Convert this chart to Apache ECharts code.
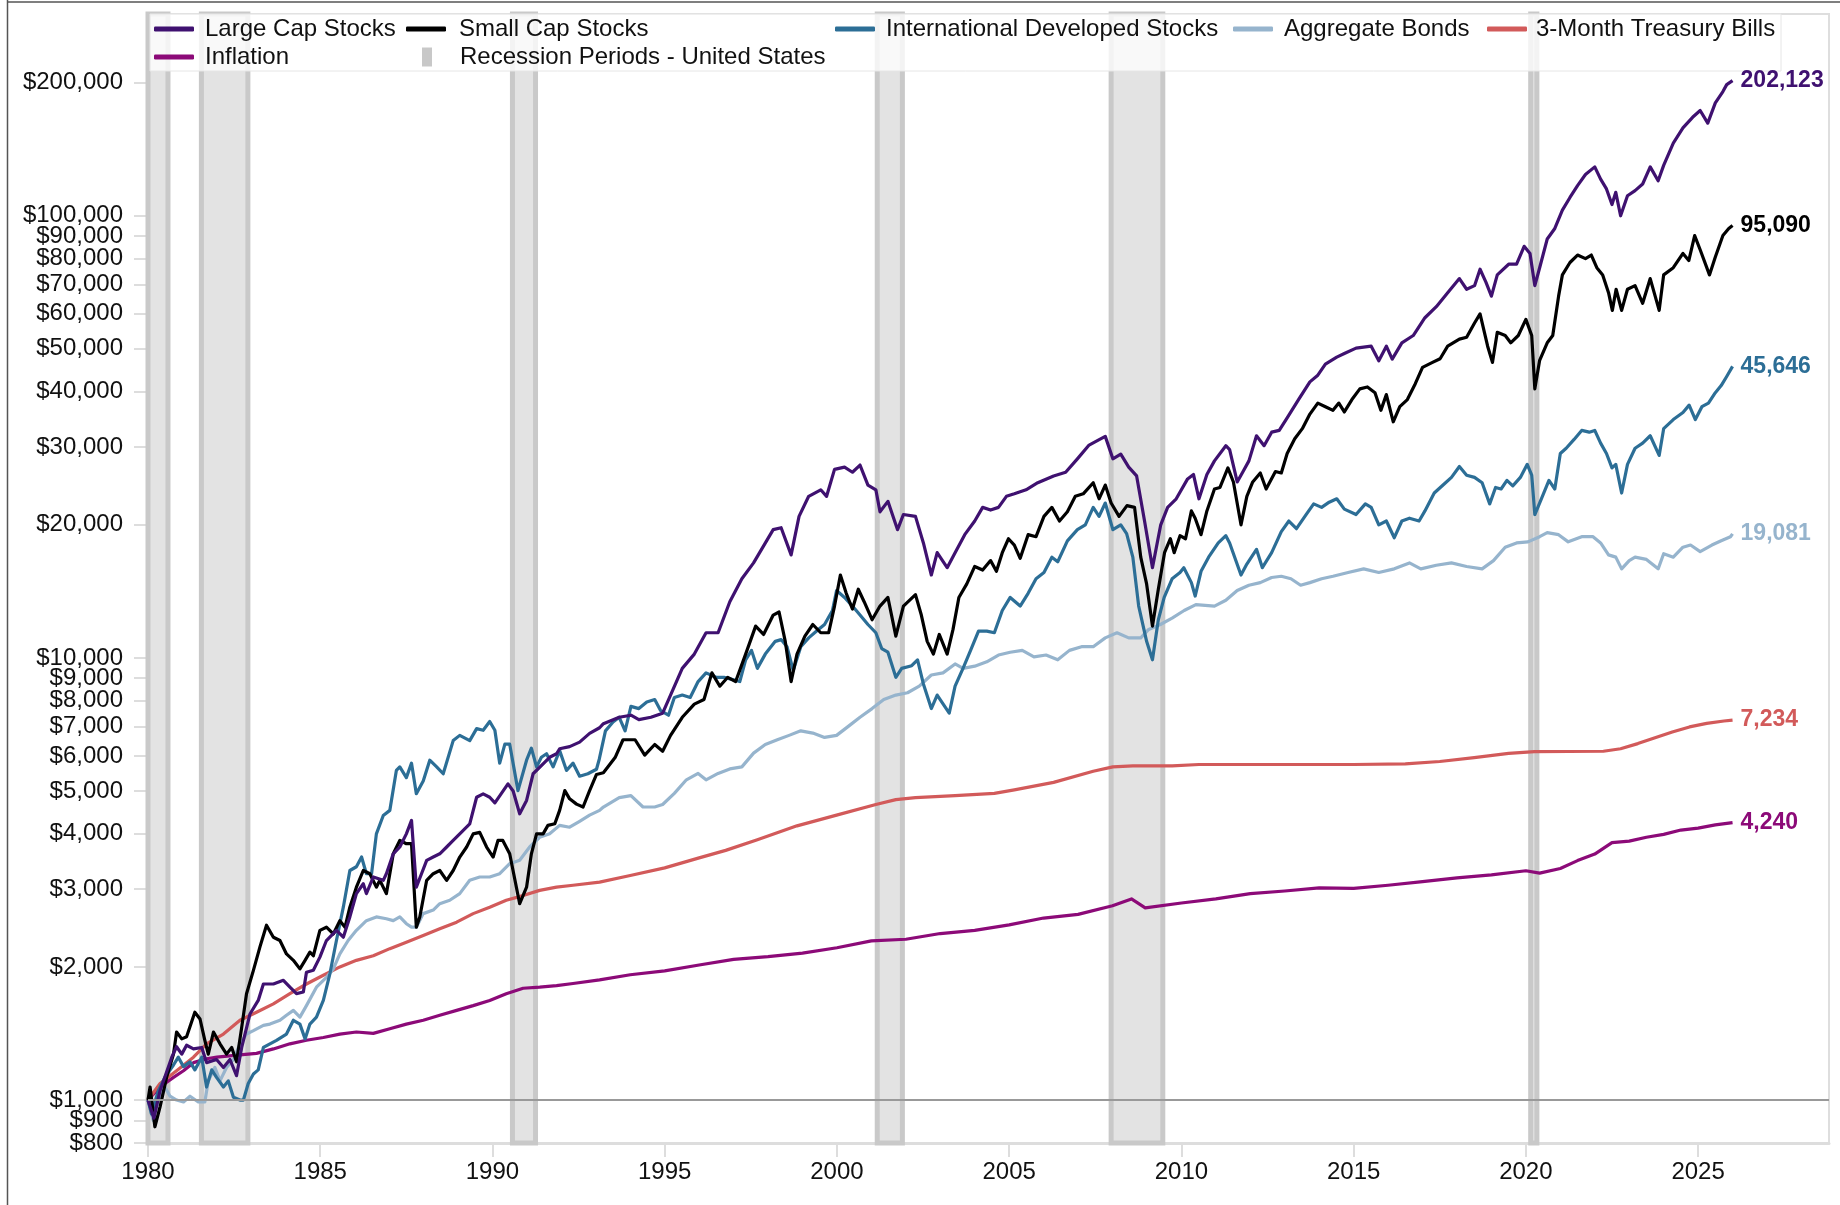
<!DOCTYPE html>
<html lang="en">
<head>
<meta charset="utf-8">
<title>Growth of $1,000</title>
<script src="https://cdn.jsdelivr.net/npm/echarts@6.0.0/dist/echarts.min.js"></script>
<style>
    html, body { margin: 0; padding: 0; background: #fff; }
    #main { width: 1840px; height: 1205px; }
</style>
</head>
<body>
<div id="main"></div>
<script type="text/javascript">

    // growth of $1,000, points are [year, value]
    var largeCap = [[1980.00,1000],[1980.17,910],[1980.35,1050],[1980.69,1250],[1980.83,1320],[1980.98,1270],[1981.12,1330],[1981.32,1305],[1981.56,1315],[1981.70,1215],[1981.99,1235],[1982.19,1185],[1982.38,1235],[1982.57,1135],[1982.72,1315],[1982.96,1565],[1983.20,1680],[1983.35,1830],[1983.64,1830],[1983.93,1865],[1984.12,1800],[1984.31,1740],[1984.51,1755],[1984.60,1945],[1984.80,1965],[1984.99,2105],[1985.18,2295],[1985.47,2420],[1985.67,2335],[1985.86,2595],[1986.05,2930],[1986.25,3085],[1986.34,2930],[1986.54,3195],[1986.83,3140],[1986.92,3250],[1987.12,3605],[1987.31,3735],[1987.50,4000],[1987.65,4290],[1987.79,3030],[1987.94,3250],[1988.09,3485],[1988.28,3545],[1988.47,3605],[1988.67,3735],[1988.86,3865],[1989.05,4000],[1989.34,4215],[1989.54,4840],[1989.73,4925],[1989.92,4840],[1990.07,4700],[1990.45,5190],[1990.60,5000],[1990.79,4440],[1990.99,4760],[1991.18,5470],[1991.47,5760],[1991.66,5960],[1991.86,6070],[1991.95,6230],[1992.24,6300],[1992.53,6450],[1992.82,6750],[1993.11,6950],[1993.22,7100],[1993.68,7340],[1994.02,7420],[1994.25,7250],[1994.60,7340],[1994.94,7500],[1995.17,8240],[1995.51,9470],[1995.86,10200],[1996.20,11400],[1996.55,11400],[1996.89,13400],[1997.24,15100],[1997.58,16400],[1998.15,19500],[1998.38,19700],[1998.67,17100],[1998.90,20900],[1999.18,23200],[1999.53,24000],[1999.70,23200],[1999.93,26700],[2000.22,27000],[2000.45,26300],[2000.67,27300],[2000.90,24600],[2001.13,24000],[2001.25,21400],[2001.48,22600],[2001.76,19500],[2001.93,21100],[2002.28,20900],[2002.51,18200],[2002.74,15400],[2002.91,17300],[2003.20,16000],[2003.43,17300],[2003.71,19000],[2004.00,20400],[2004.23,21900],[2004.46,21600],[2004.69,21900],[2004.92,23200],[2005.15,23500],[2005.49,24000],[2005.83,24900],[2006.29,25800],[2006.64,26300],[2006.98,28200],[2007.32,30300],[2007.56,31000],[2007.79,31700],[2008.01,28200],[2008.24,28900],[2008.47,27000],[2008.70,25800],[2008.93,20400],[2009.16,16000],[2009.40,20000],[2009.60,21900],[2009.85,22900],[2010.18,25400],[2010.35,26000],[2010.51,22900],[2010.74,26000],[2010.96,27900],[2011.29,30200],[2011.40,29600],[2011.62,25000],[2011.79,26400],[2011.96,27900],[2012.18,31800],[2012.40,30200],[2012.62,32400],[2012.84,32700],[2013.07,34900],[2013.40,38400],[2013.73,42100],[2013.96,43600],[2014.18,46200],[2014.51,47900],[2014.73,48800],[2015.07,50200],[2015.51,50700],[2015.73,47000],[2015.95,50700],[2016.12,47400],[2016.40,51600],[2016.73,53600],[2017.07,58800],[2017.40,62300],[2017.73,67000],[2018.07,72100],[2018.28,68200],[2018.51,69500],[2018.67,75700],[2018.84,70800],[2019.00,65800],[2019.17,73500],[2019.50,77700],[2019.73,77700],[2019.95,85300],[2020.12,82200],[2020.26,69500],[2020.40,76300],[2020.62,88600],[2020.84,93600],[2021.06,103000],[2021.28,110000],[2021.50,117000],[2021.73,124000],[2022.00,129000],[2022.17,121000],[2022.34,115000],[2022.50,106000],[2022.61,113000],[2022.75,100000],[2022.95,111000],[2023.17,114000],[2023.39,118000],[2023.61,129000],[2023.84,120000],[2024.00,130000],[2024.28,146000],[2024.56,158000],[2024.84,167000],[2025.06,173000],[2025.28,162000],[2025.50,180000],[2025.72,191000],[2025.83,198000],[2026.00,202123]];

    var smallCap = [[1980.00,1000],[1980.06,1070],[1980.20,870],[1980.35,965],[1980.54,1125],[1980.74,1270],[1980.83,1425],[1980.98,1375],[1981.12,1390],[1981.36,1580],[1981.51,1525],[1981.65,1365],[1981.75,1270],[1981.90,1425],[1982.09,1340],[1982.28,1270],[1982.43,1315],[1982.57,1220],[1982.72,1460],[1982.86,1740],[1983.06,1965],[1983.25,2220],[1983.44,2485],[1983.64,2335],[1983.83,2295],[1984.02,2140],[1984.22,2070],[1984.41,1980],[1984.56,2070],[1984.70,2160],[1984.80,2120],[1984.99,2420],[1985.18,2460],[1985.38,2375],[1985.57,2545],[1985.72,2460],[1985.86,2730],[1986.05,3030],[1986.25,3305],[1986.44,3250],[1986.63,3030],[1986.73,3140],[1986.92,2930],[1987.12,3605],[1987.31,3865],[1987.50,3800],[1987.65,3800],[1987.79,2460],[1987.89,2595],[1988.09,3140],[1988.28,3250],[1988.47,3305],[1988.67,3140],[1988.86,3305],[1989.05,3545],[1989.25,3735],[1989.44,4000],[1989.63,4030],[1989.83,3735],[1990.02,3545],[1990.16,3865],[1990.30,3865],[1990.50,3605],[1990.79,2780],[1990.99,3030],[1991.13,3605],[1991.28,4000],[1991.47,4000],[1991.61,4180],[1991.81,4215],[1991.95,4520],[1992.10,5010],[1992.24,4800],[1992.44,4670],[1992.63,4600],[1992.82,5010],[1993.02,5450],[1993.22,5500],[1993.56,5950],[1993.79,6530],[1994.14,6530],[1994.42,6030],[1994.71,6370],[1994.94,6150],[1995.17,6680],[1995.51,7340],[1995.86,7860],[1996.14,8050],[1996.37,9250],[1996.60,8630],[1996.83,9040],[1997.06,8840],[1997.35,10200],[1997.64,11800],[1997.87,11300],[1998.15,12500],[1998.32,12700],[1998.50,10900],[1998.67,8840],[1998.84,10200],[1999.07,11200],[1999.30,11900],[1999.53,11400],[1999.76,11400],[1999.93,13100],[2000.10,15400],[2000.27,14000],[2000.45,12900],[2000.62,14300],[2000.79,13400],[2001.02,12200],[2001.25,13100],[2001.48,13700],[2001.71,11200],[2001.93,13100],[2002.28,13900],[2002.45,12500],[2002.62,10900],[2002.80,10200],[2002.97,11300],[2003.20,10200],[2003.37,11600],[2003.54,13700],[2003.77,14700],[2004.00,16100],[2004.23,15800],[2004.46,16600],[2004.63,15700],[2004.80,17300],[2004.98,18600],[2005.15,18000],[2005.32,16800],[2005.55,19000],[2005.78,18800],[2006.01,20900],[2006.24,21900],[2006.46,20400],[2006.69,21400],[2006.92,23200],[2007.15,23500],[2007.44,24900],[2007.61,22900],[2007.79,24600],[2007.96,22400],[2008.19,20900],[2008.42,22100],[2008.64,21900],[2008.82,16900],[2008.99,14700],[2009.16,11800],[2009.33,14300],[2009.51,17300],[2009.68,18600],[2009.79,17300],[2009.96,18900],[2010.12,18600],[2010.29,21500],[2010.40,20700],[2010.57,19000],[2010.74,21500],[2010.96,24100],[2011.12,24300],[2011.35,26900],[2011.51,25000],[2011.73,20000],[2011.90,23200],[2012.07,25000],[2012.29,26200],[2012.46,24100],[2012.73,26400],[2012.90,26200],[2013.07,29000],[2013.29,31300],[2013.51,33000],[2013.73,35600],[2013.96,37700],[2014.18,37000],[2014.40,36300],[2014.57,37700],[2014.73,36000],[2014.95,38400],[2015.18,40600],[2015.40,41000],[2015.62,39800],[2015.79,36300],[2015.95,39400],[2016.15,34200],[2016.34,37000],[2016.56,38400],[2016.79,41700],[2017.00,45400],[2017.29,46600],[2017.51,47500],[2017.73,50700],[2018.07,52600],[2018.28,53100],[2018.51,57200],[2018.67,60000],[2018.89,50700],[2019.03,46600],[2019.17,54500],[2019.40,53600],[2019.56,51600],[2019.78,53600],[2020.00,58300],[2020.17,53600],[2020.26,40600],[2020.40,47100],[2020.62,51600],[2020.78,53600],[2020.95,65800],[2021.06,73500],[2021.28,78400],[2021.50,81500],[2021.73,80000],[2021.90,81500],[2022.06,76300],[2022.23,73500],[2022.40,67000],[2022.51,61100],[2022.62,68200],[2022.78,61100],[2022.95,68200],[2023.17,69500],[2023.39,63400],[2023.61,72100],[2023.87,61100],[2024.00,73500],[2024.28,76300],[2024.56,82200],[2024.73,79200],[2024.90,90200],[2025.06,83800],[2025.33,73500],[2025.50,80700],[2025.72,90200],[2025.89,93600],[2026.00,95090]];

    var intlDev = [[1980.00,1000],[1980.10,930],[1980.30,1050],[1980.49,1125],[1980.74,1200],[1980.88,1250],[1981.03,1190],[1981.22,1220],[1981.36,1170],[1981.56,1250],[1981.70,1070],[1981.85,1170],[1981.99,1125],[1982.19,1070],[1982.33,1105],[1982.48,1015],[1982.67,1000],[1982.77,1000],[1982.91,1090],[1983.06,1145],[1983.20,1170],[1983.35,1315],[1983.54,1340],[1983.73,1365],[1984.02,1410],[1984.22,1515],[1984.41,1485],[1984.56,1375],[1984.70,1485],[1984.89,1540],[1985.09,1680],[1985.28,1930],[1985.47,2295],[1985.67,2730],[1985.86,3305],[1986.05,3370],[1986.20,3545],[1986.34,3250],[1986.49,3250],[1986.63,4000],[1986.83,4400],[1987.02,4520],[1987.21,5565],[1987.31,5670],[1987.50,5360],[1987.65,5780],[1987.79,4930],[1987.99,5270],[1988.18,5870],[1988.38,5670],[1988.57,5470],[1988.86,6500],[1989.05,6680],[1989.34,6500],[1989.54,6920],[1989.73,6860],[1989.92,7180],[1990.07,6860],[1990.21,5780],[1990.36,6380],[1990.50,6380],[1990.74,5010],[1990.99,5870],[1991.13,6250],[1991.28,5670],[1991.42,5960],[1991.57,6070],[1991.76,5670],[1991.95,6170],[1992.15,5565],[1992.34,5780],[1992.53,5400],[1992.77,5470],[1993.02,5600],[1993.10,5900],[1993.28,6840],[1993.50,7160],[1993.68,7340],[1993.85,6840],[1994.02,7770],[1994.25,7680],[1994.48,7950],[1994.71,8050],[1994.88,7600],[1995.11,7420],[1995.28,8140],[1995.51,8240],[1995.74,8140],[1995.97,8840],[1996.20,9250],[1996.49,9040],[1996.72,9040],[1996.95,8940],[1997.18,8840],[1997.35,9900],[1997.52,10400],[1997.69,9470],[1997.92,10200],[1998.21,10900],[1998.38,11000],[1998.55,10600],[1998.73,9370],[1998.95,10600],[1999.18,11100],[1999.41,11500],[1999.64,11900],[1999.87,12800],[1999.99,14200],[2000.22,13700],[2000.45,13100],[2000.67,12500],[2000.90,11900],[2001.13,11400],[2001.30,10500],[2001.48,10300],[2001.71,9040],[2001.88,9470],[2002.17,9600],[2002.34,9900],[2002.51,8730],[2002.74,7680],[2002.91,8240],[2003.26,7500],[2003.43,8630],[2003.66,9470],[2003.88,10400],[2004.11,11500],[2004.35,11500],[2004.57,11400],[2004.80,12800],[2005.03,13700],[2005.32,13100],[2005.55,14000],[2005.78,15100],[2006.01,15600],[2006.24,16900],[2006.41,16500],[2006.69,18400],[2006.98,19500],[2007.21,20000],[2007.44,21900],[2007.61,20900],[2007.79,22400],[2008.01,19500],[2008.24,20000],[2008.41,19100],[2008.59,16900],[2008.76,13100],[2008.99,10900],[2009.16,9900],[2009.33,12200],[2009.50,13700],[2009.73,15100],[2009.96,15600],[2010.07,16000],[2010.29,14800],[2010.40,13800],[2010.57,15700],[2010.79,16900],[2011.07,18200],[2011.29,18900],[2011.40,18200],[2011.73,15400],[2011.90,16300],[2012.18,17600],[2012.35,16000],[2012.62,17300],[2012.90,19300],[2013.12,20400],[2013.34,19600],[2013.62,21100],[2013.84,22300],[2014.07,21900],[2014.29,22500],[2014.51,22900],[2014.73,21700],[2015.07,21100],[2015.34,22300],[2015.51,21900],[2015.73,20000],[2015.95,20400],[2016.18,18700],[2016.40,20400],[2016.62,20700],[2016.90,20400],[2017.07,21500],[2017.34,23600],[2017.62,24700],[2017.84,25600],[2018.07,27100],[2018.28,25900],[2018.51,25600],[2018.73,24900],[2018.95,22300],[2019.12,24300],[2019.28,24100],[2019.45,25200],[2019.62,24500],[2019.84,25600],[2020.04,27400],[2020.17,25900],[2020.26,21100],[2020.45,22900],[2020.67,25200],[2020.84,24100],[2021.00,29000],[2021.17,29800],[2021.40,31200],[2021.62,32700],[2021.84,32400],[2022.00,32700],[2022.17,30600],[2022.34,29000],[2022.50,26900],[2022.61,27400],[2022.78,23600],[2022.95,27400],[2023.17,29800],[2023.39,30600],[2023.61,31800],[2023.87,28700],[2024.00,33000],[2024.28,34600],[2024.56,35900],[2024.74,37300],[2024.92,34600],[2025.11,37000],[2025.30,37700],[2025.50,39800],[2025.67,41300],[2025.83,43300],[2026.00,45646]];

    var aggBonds = [[1980.00,1000],[1980.15,900],[1980.30,1000],[1980.49,1070],[1980.64,1020],[1980.83,1000],[1981.03,990],[1981.22,1020],[1981.46,990],[1981.65,990],[1981.75,1105],[1981.94,1185],[1982.09,1105],[1982.28,1185],[1982.48,1235],[1982.67,1340],[1982.86,1410],[1983.06,1435],[1983.35,1475],[1983.54,1485],[1983.83,1515],[1984.02,1555],[1984.22,1595],[1984.41,1540],[1984.60,1635],[1984.89,1800],[1985.18,1895],[1985.38,1980],[1985.57,2140],[1985.81,2295],[1986.05,2420],[1986.34,2545],[1986.63,2595],[1986.92,2570],[1987.12,2545],[1987.31,2595],[1987.50,2505],[1987.65,2460],[1987.79,2460],[1987.99,2640],[1988.28,2690],[1988.47,2780],[1988.76,2830],[1989.05,2930],[1989.34,3140],[1989.63,3195],[1989.92,3195],[1990.21,3250],[1990.50,3425],[1990.79,3485],[1991.08,3735],[1991.37,3930],[1991.66,4000],[1991.95,4180],[1992.24,4140],[1992.53,4270],[1992.82,4410],[1993.11,4520],[1993.22,4600],[1993.68,4830],[1994.02,4880],[1994.37,4600],[1994.71,4600],[1994.94,4660],[1995.28,4940],[1995.63,5300],[1995.97,5480],[1996.20,5300],[1996.55,5480],[1996.89,5610],[1997.24,5670],[1997.58,6090],[1997.92,6370],[1998.27,6530],[1998.61,6680],[1998.95,6840],[1999.30,6760],[1999.64,6610],[1999.99,6680],[2000.33,7000],[2000.67,7340],[2001.02,7680],[2001.36,8050],[2001.71,8240],[2002.05,8340],[2002.39,8630],[2002.74,9150],[2003.08,9250],[2003.43,9690],[2003.66,9470],[2004.00,9580],[2004.35,9800],[2004.69,10150],[2005.03,10300],[2005.38,10400],[2005.72,10050],[2006.07,10150],[2006.41,9900],[2006.75,10400],[2007.10,10600],[2007.44,10600],[2007.79,11100],[2008.13,11400],[2008.47,11100],[2008.82,11100],[2009.05,11600],[2009.39,11900],[2009.73,12300],[2010.08,12800],[2010.42,13200],[2010.96,13100],[2011.29,13500],[2011.62,14200],[2011.96,14600],[2012.29,14800],[2012.62,15200],[2012.90,15300],[2013.18,15100],[2013.46,14600],[2013.73,14800],[2014.07,15100],[2014.40,15300],[2014.84,15600],[2015.29,15900],[2015.73,15600],[2016.18,15900],[2016.62,16400],[2016.95,15900],[2017.40,16200],[2017.84,16400],[2018.28,16100],[2018.73,15900],[2019.06,16600],[2019.40,17800],[2019.73,18200],[2020.06,18300],[2020.40,18800],[2020.62,19200],[2020.95,19000],[2021.23,18300],[2021.62,18800],[2021.95,18800],[2022.17,18200],[2022.40,17100],[2022.61,16900],[2022.78,15900],[2023.00,16600],[2023.17,16900],[2023.50,16700],[2023.84,15900],[2024.00,17200],[2024.28,16900],[2024.56,17800],[2024.78,18000],[2025.06,17400],[2025.40,18000],[2025.67,18400],[2025.94,18800],[2026.00,19081]];

    var tBills = [[1980.00,1000],[1980.35,1090],[1980.83,1165],[1981.32,1250],[1981.70,1340],[1982.19,1410],[1982.67,1515],[1983.15,1580],[1983.64,1650],[1984.12,1740],[1984.60,1830],[1985.09,1915],[1985.57,2000],[1986.05,2070],[1986.54,2120],[1987.02,2200],[1987.50,2275],[1987.99,2355],[1988.47,2440],[1988.96,2525],[1989.44,2640],[1989.92,2730],[1990.40,2830],[1990.89,2900],[1991.37,2980],[1991.86,3030],[1992.34,3060],[1993.11,3110],[1994.00,3220],[1995.00,3350],[1996.00,3530],[1996.77,3670],[1997.69,3880],[1998.84,4170],[1999.99,4410],[2001.13,4660],[2001.71,4780],[2002.28,4830],[2003.43,4880],[2004.57,4940],[2005.15,5030],[2006.29,5230],[2007.44,5540],[2008.01,5670],[2008.59,5700],[2009.73,5700],[2010.51,5740],[2015.00,5740],[2016.50,5760],[2017.50,5830],[2018.50,5950],[2019.50,6080],[2020.25,6140],[2022.25,6150],[2022.75,6230],[2023.25,6400],[2023.75,6600],[2024.25,6800],[2024.75,6980],[2025.25,7110],[2025.75,7200],[2026.00,7234]];

    var inflation = [[1980.00,1000],[1980.35,1070],[1980.74,1125],[1981.03,1165],[1981.32,1215],[1981.70,1240],[1982.00,1250],[1982.67,1265],[1983.15,1275],[1983.64,1305],[1984.12,1340],[1984.60,1365],[1985.09,1385],[1985.57,1410],[1986.05,1425],[1986.54,1415],[1987.02,1450],[1987.50,1485],[1987.99,1515],[1988.47,1555],[1988.96,1595],[1989.44,1635],[1989.92,1680],[1990.40,1740],[1990.89,1790],[1991.37,1800],[1991.86,1815],[1992.34,1835],[1993.11,1870],[1994.00,1920],[1995.00,1960],[1996.00,2020],[1997.00,2080],[1998.00,2110],[1999.00,2150],[2000.00,2210],[2001.00,2290],[2002.00,2310],[2003.00,2380],[2004.00,2420],[2005.00,2490],[2006.00,2580],[2007.00,2630],[2008.00,2750],[2008.55,2850],[2008.95,2720],[2010.00,2790],[2011.00,2850],[2012.00,2930],[2013.00,2970],[2014.00,3020],[2015.00,3010],[2016.00,3060],[2017.00,3120],[2018.00,3180],[2019.00,3230],[2020.00,3300],[2020.40,3260],[2021.00,3340],[2021.50,3480],[2022.00,3600],[2022.50,3820],[2023.00,3850],[2023.50,3930],[2024.00,3990],[2024.50,4080],[2025.00,4120],[2025.50,4190],[2026.00,4240]];

    // US recessions, [start, end] in years
    var recessions = [[1980.00,1980.58],[1981.55,1982.90],[1990.58,1991.25],[2001.17,2001.90],[2007.96,2009.46],[2020.14,2020.32]];

    var xTicks = [1980, 1985, 1990, 1995, 2000, 2005, 2010, 2015, 2020, 2025];
    var yTicks = [1000, 2000, 3000, 4000, 5000, 6000, 7000, 8000, 9000, 10000, 20000, 30000, 40000, 50000, 60000, 70000, 80000, 90000, 100000, 200000];
    // the two lowest ticks sit too close to their neighbours, each gets its own axis layer
    var yTicksLow1 = [800];
    var yTicksLow2 = [900];

    var FONT = '"Liberation Sans", Arial, Helvetica, sans-serif';

    function commas(n) {
        return String(Math.round(n)).replace(/\B(?=(\d{3})+(?!\d))/g, ',');
    }

    function logAxis(ticks) {
        return {
            type: 'log',
            logBase: 10,
            min: 799.5,
            max: 286000,
            position: 'left',
            offset: 0,
            splitLine: { show: false },
            axisLine: { show: false },
            axisTick: { show: true, length: 14, customValues: ticks, lineStyle: { color: '#dddddd', width: 2 } },
            axisLabel: {
                customValues: ticks,
                margin: 25,
                fontFamily: FONT,
                fontSize: 24,
                color: '#111',
                formatter: function (v) { return '$' + commas(v); }
            }
        };
    }

    function lineSeries(name, data, color) {
        return {
            name: name,
            type: 'line',
            data: data,
            color: color,
            symbol: 'none',
            showSymbol: false,
            z: 3,
            lineStyle: { width: 3.2, color: color, join: 'round' },
            endLabel: {
                show: true,
                distance: 8,
                color: color,
                fontFamily: FONT,
                fontSize: 23,
                fontWeight: 'bold',
                formatter: function (p) { return commas(p.value[1]); }
            },
            emphasis: { disabled: true }
        };
    }

    function legendItem(name, left, top, icon, w, h, pad) {
        return {
            data: [{ name: name, icon: icon }],
            left: left,
            top: top,
            itemWidth: w,
            itemHeight: h,
            padding: 0,
            selectedMode: false,
            z: 10,
            textStyle: { fontFamily: FONT, fontSize: 24, color: '#111', padding: [0, 0, 0, pad] }
        };
    }

    var myChart = echarts.init(document.getElementById('main'));

    var option = {
        animation: false,
        backgroundColor: '#fff',
        grid: {
            left: 148, right: 11, top: 14, bottom: 62,
            outerBoundsMode: 'none',
            show: true,
            borderColor: '#dedede',
            borderWidth: 2
        },
        legend: [
            legendItem('Large Cap Stocks', 154, 17, 'roundRect', 40, 5, 6),
            legendItem('Small Cap Stocks', 406, 17, 'roundRect', 40, 5, 8),
            legendItem('International Developed Stocks', 835, 17, 'roundRect', 40, 5, 6),
            legendItem('Aggregate Bonds', 1233, 17, 'roundRect', 40, 5, 6),
            legendItem('3-Month Treasury Bills', 1487, 17, 'roundRect', 40, 5, 4),
            legendItem('Inflation', 154, 45, 'roundRect', 40, 5, 6),
            legendItem('Recession Periods - United States', 422, 45, 'rect', 10, 19, 23)
        ],
        graphic: [
            {   // legend panel, half see-through
                type: 'rect', z: 3,
                shape: { x: 150, y: 14, width: 1631, height: 57 },
                style: { fill: 'rgba(255,255,255,0.78)', stroke: '#e6e6e6', lineWidth: 1 }
            },
            { type: 'line', z: 20, shape: { x1: 7.5, y1: 0, x2: 7.5, y2: 1205 }, style: { stroke: '#555', lineWidth: 1.5 } },
            { type: 'line', z: 20, shape: { x1: 7, y1: 2, x2: 1840, y2: 2 }, style: { stroke: '#555', lineWidth: 1.5 } }
        ],
        xAxis: {
            type: 'value',
            min: 1980,
            max: 2028.8,
            splitLine: { show: false },
            axisLine: { show: true, lineStyle: { color: '#dddddd', width: 3 } },
            axisTick: { show: true, length: 14, customValues: xTicks, lineStyle: { color: '#dddddd', width: 2 } },
            axisLabel: {
                customValues: xTicks,
                showMinLabel: true,
                margin: 17,
                fontFamily: FONT,
                fontSize: 24,
                color: '#111',
                formatter: function (v) { return String(v); }
            }
        },
        yAxis: [logAxis(yTicks), logAxis(yTicksLow1), logAxis(yTicksLow2)],
        series: [
            {
                name: 'Recession Periods - United States',
                type: 'line',
                data: [],
                color: '#c8c8c8',
                z: 1,
                silent: true,
                markArea: {
                    silent: true,
                    itemStyle: { color: '#e3e3e3', borderColor: '#c9c9c9', borderWidth: 5 },
                    data: recessions.map(function (r) { return [{ xAxis: r[0] }, { xAxis: r[1] }]; })
                }
            },
            {
                name: 'base',
                type: 'line',
                data: [],
                z: 2,
                silent: true,
                markLine: {
                    silent: true,
                    symbol: ['none', 'none'],
                    label: { show: false },
                    lineStyle: { color: '#999999', width: 2, type: 'solid' },
                    data: [{ yAxis: 1000 }]
                }
            },
            lineSeries('Inflation', inflation, '#8c0a78'),
            lineSeries('3-Month Treasury Bills', tBills, '#d25a5a'),
            lineSeries('Aggregate Bonds', aggBonds, '#96b4cd'),
            lineSeries('International Developed Stocks', intlDev, '#2c6e96'),
            lineSeries('Small Cap Stocks', smallCap, '#000000'),
            lineSeries('Large Cap Stocks', largeCap, '#3f1170')
        ]
    };

    myChart.setOption(option);
</script>
</body>
</html>
